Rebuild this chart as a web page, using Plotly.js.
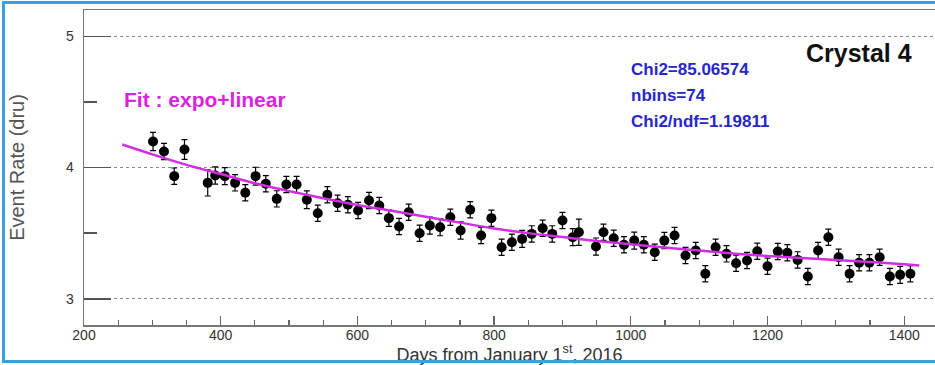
<!DOCTYPE html>
<html>
<head>
<meta charset="utf-8">
<script src="https://cdn.plot.ly/plotly-3.0.1.min.js"></script>
<style>
  html, body { margin: 0; padding: 0; background: #ffffff; overflow: hidden; }
  #wrap { position: relative; width: 935px; height: 365px; overflow: hidden; }
  #chart { position: absolute; left: 0; top: 0; width: 935px; height: 365px; }
  #frame { position: absolute; left: 2px; top: 1px; width: 960px; height: 362px;
           border: 3px solid #3aa2e4; box-sizing: border-box; pointer-events: none; }
</style>
</head>
<body>
<div id="wrap">
  <div id="chart"></div>
  <div id="frame"></div>
</div>
<script>
// Measured event rate per time bin (days since Jan 1, 2016)
const days = [301,317,332,347,381,392,406,421,436,451,466,482,496,511,526,542,556,571,586,601,
              617,632,646,661,675,691,706,721,736,751,765,781,796,811,826,841,855,871,885,900,
              915,924,949,960,975,990,1005,1019,1035,1049,1064,1080,1095,1109,1124,1140,1154,1170,1185,1200,
              1215,1229,1244,1259,1274,1289,1304,1320,1334,1349,1364,1379,1394,1409];
const rates = [4.198,4.122,3.934,4.137,3.883,3.939,3.934,3.883,3.807,3.934,3.876,3.761,3.870,3.870,3.754,3.652,3.792,3.728,3.716,3.672,
               3.748,3.710,3.614,3.550,3.659,3.499,3.558,3.545,3.621,3.520,3.678,3.482,3.614,3.393,3.431,3.456,3.494,3.537,3.494,3.596,
               3.469,3.507,3.398,3.507,3.461,3.411,3.443,3.411,3.354,3.443,3.482,3.329,3.367,3.190,3.393,3.342,3.271,3.291,3.362,3.248,
               3.360,3.350,3.296,3.169,3.367,3.469,3.316,3.190,3.274,3.274,3.316,3.169,3.182,3.190];
const rateErrors = [0.070,0.062,0.062,0.075,0.100,0.065,0.065,0.062,0.062,0.068,0.062,0.062,0.062,0.062,0.068,0.062,0.062,0.062,0.062,0.062,
                    0.062,0.062,0.062,0.062,0.062,0.062,0.065,0.065,0.062,0.065,0.062,0.062,0.062,0.062,0.062,0.065,0.062,0.062,0.062,0.062,
                    0.065,0.100,0.065,0.062,0.062,0.062,0.065,0.062,0.062,0.062,0.062,0.062,0.062,0.062,0.062,0.062,0.062,0.062,0.062,0.062,
                    0.062,0.062,0.062,0.062,0.062,0.062,0.062,0.062,0.062,0.062,0.062,0.062,0.065,0.062];

// Fit curve (expo+linear)
const fitDays  = [256,300,350,400,450,500,550,600,650,700,750,800,850,900,950,1000,1050,1100,1150,1200,1250,1300,1350,1400,1422];
const fitRates = [4.175,4.10,4.02,3.95,3.88,3.82,3.765,3.715,3.67,3.625,3.58,3.535,3.50,3.47,3.44,3.415,3.39,3.367,3.345,3.325,3.31,3.295,3.28,3.262,3.253];

// Text
const xTitle = 'Days from January 1<sup>st</sup>, 2016';
const yTitle = 'Event Rate (dru)';
const fitLabel = 'Fit : expo+linear';
const statLines = ['Chi2=85.06574', 'nbins=74', 'Chi2/ndf=1.19811'];
const panelLabel = 'Crystal 4';

const FONT = 'Liberation Sans, Arial, Helvetica, sans-serif';

const traces = [
  {
    x: days, y: rates, type: 'scatter', mode: 'markers',
    marker: { color: '#000000', size: 10, line: { width: 0 } },
    error_y: { type: 'data', array: rateErrors, visible: true, color: '#000000', thickness: 1.2, width: 3 },
    hoverinfo: 'x+y', showlegend: false
  },
  {
    x: fitDays, y: fitRates, type: 'scatter', mode: 'lines',
    line: { color: '#d02ee0', width: 2.5, shape: 'spline' },
    showlegend: false
  }
];

const statAnn = statLines.map((t, i) => ({
  text: '<b>' + t + '</b>', xref: 'x', yref: 'y', x: 998, y: 4.748 - i * 0.199,
  xanchor: 'left', yanchor: 'middle', showarrow: false,
  font: { family: FONT, size: 17, color: '#2626cc' }
}));

const layout = {
  width: 935, height: 365,
  margin: { l: 84, r: 0, t: 10, b: 40 },
  paper_bgcolor: '#ffffff', plot_bgcolor: '#ffffff',
  font: { family: FONT, color: '#333333' },
  showlegend: false,
  xaxis: {
    range: [200, 1445], tickmode: 'linear', tick0: 200, dtick: 200,
    ticks: 'inside', ticklen: 9, tickwidth: 1.3, tickcolor: '#666666',
    minor: { dtick: 50, tick0: 200, ticks: 'inside', ticklen: 5, tickwidth: 1.2, tickcolor: '#666666', showgrid: false },
    showline: true, linecolor: '#777777', linewidth: 1.5, mirror: true,
    showgrid: false, zeroline: false,
    tickfont: { family: FONT, size: 14, color: '#333333' },
    ticklabelstandoff: -3,
    title: { text: xTitle, font: { family: FONT, size: 18, color: '#333333' }, standoff: 2 }
  },
  yaxis: {
    range: [2.8, 5.2], tickvals: [3, 4, 5], ticktext: ['3', '4', '5'],
    ticks: 'inside', ticklen: 27, tickwidth: 1.5, tickcolor: '#555555',
    minor: { tickvals: [3.5, 4.5], ticks: 'inside', ticklen: 13, tickwidth: 1.5, tickcolor: '#555555', showgrid: false },
    showline: true, linecolor: '#777777', linewidth: 1.5, mirror: false,
    showgrid: true, gridcolor: '#8a8a8a', griddash: 'dot', gridwidth: 1,
    zeroline: false,
    tickfont: { family: FONT, size: 14, color: '#333333' },
    ticklabelstandoff: 6,
    title: { text: yTitle, font: { family: FONT, size: 20, color: '#555555' }, standoff: 36 }
  },
  annotations: [
    { text: '<b>' + fitLabel + '</b>', xref: 'x', yref: 'y', x: 255, y: 4.519,
      xanchor: 'left', yanchor: 'middle', showarrow: false,
      font: { family: FONT, size: 21, color: '#dd22dd' } },
    { text: '<b>' + panelLabel + '</b>', xref: 'x', yref: 'y', x: 1253, y: 4.87,
      xanchor: 'left', yanchor: 'middle', showarrow: false,
      font: { family: FONT, size: 25, color: '#111111' } }
  ].concat(statAnn)
};

Plotly.newPlot('chart', traces, layout, { staticPlot: true, displayModeBar: false });
</script>
</body>
</html>
